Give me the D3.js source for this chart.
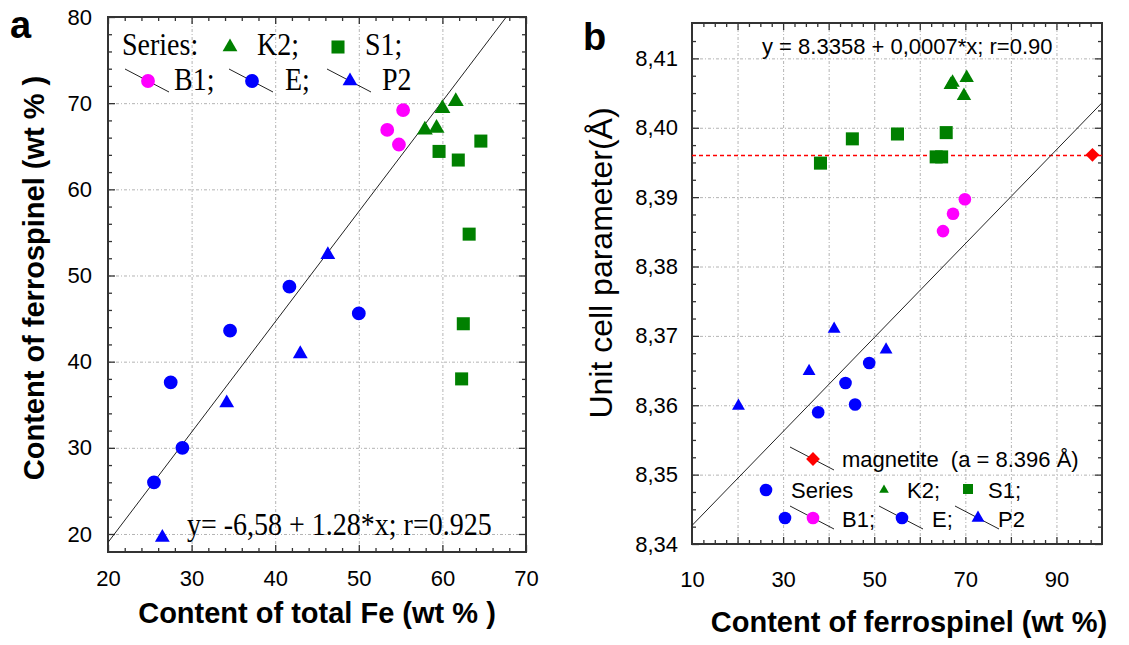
<!DOCTYPE html>
<html>
<head>
<meta charset="utf-8">
<script src="https://cdn.jsdelivr.net/npm/d3@7"></script>
<style>
  body { margin: 0; background: #fff; }
  svg { display: block; }
  .tick text { font-family: Arial, "Liberation Sans", sans-serif; font-size: 22px; fill: #000; }
  .grid line { stroke: #b4b4b4; stroke-width: 1; stroke-dasharray: 3,2,1,2; }
  .ticks line { stroke: #333; stroke-width: 1.3; }
  .title { font-family: Arial, "Liberation Sans", sans-serif; font-weight: bold; font-size: 29px; fill: #000; }
  .serif { font-family: "Liberation Serif", "Times New Roman", serif; font-size: 28px; fill: #000; }
  .sans { font-family: Arial, "Liberation Sans", sans-serif; font-size: 22px; fill: #000; }
</style>
</head>
<body>
<svg id="chart" width="1129" height="645"></svg>
<script>
// ---- panel a : content of ferrospinel vs content of total Fe ----
var aXTicks = [ 20, 30, 40, 50, 60, 70 ];
var aYTicks = [ 20, 30, 40, 50, 60, 70, 80 ];
var aK2 = [ [ 57.9, 66.9 ], [ 59.3, 67.1 ], [ 60.0, 69.4 ], [ 61.6, 70.2 ] ];
var aS1 = [ [ 59.6, 64.4 ], [ 61.9, 63.4 ], [ 64.6, 65.6 ], [ 63.2, 54.8 ], [ 62.5, 44.4 ], [ 62.3, 38.0 ] ];
var aB1 = [ [ 55.3, 69.2 ], [ 53.4, 66.9 ], [ 54.8, 65.2 ] ];
var aE = [ [ 25.5, 26.0 ], [ 28.9, 30.0 ], [ 27.5, 37.6 ], [ 34.6, 43.6 ], [ 41.7, 48.7 ], [ 50.0, 45.6 ] ];
var aP2 = [ [ 26.5, 19.6 ], [ 34.2, 35.2 ], [ 43.0, 40.9 ], [ 46.3, 52.4 ] ];
var aFit = [ -6.58, 1.28 ]; // y = a + b*x
var aFitText = "y= -6,58 + 1.28*x; r=0.925";

// ---- panel b : unit cell parameter vs content of ferrospinel ----
var bXTicks = [ 10, 30, 50, 70, 90 ];
var bYTicks = [ 8.34, 8.35, 8.36, 8.37, 8.38, 8.39, 8.40, 8.41 ];
var bK2 = [ [ 66.8, 8.4062 ], [ 67.2, 8.4065 ], [ 70.3, 8.4072 ], [ 69.7, 8.4046 ] ];
var bS1 = [ [ 38.2, 8.3949 ], [ 45.2, 8.3984 ], [ 55.1, 8.3991 ], [ 65.8, 8.3993 ], [ 63.6, 8.3958 ], [ 64.8, 8.3958 ] ];
var bB1 = [ [ 69.9, 8.3897 ], [ 67.3, 8.3876 ], [ 65.1, 8.3851 ] ];
var bE = [ [ 37.7, 8.3590 ], [ 43.7, 8.3632 ], [ 45.8, 8.3601 ], [ 48.9, 8.3661 ] ];
var bP2 = [ [ 20.2, 8.3599 ], [ 35.7, 8.3649 ], [ 41.2, 8.3710 ], [ 52.6, 8.3680 ] ];
var bMagnetite = [ [ 97.9, 8.3961 ] ];
var bMagnetiteA = 8.396;
var bFit = [ 8.3359, 0.000677 ];
var bFitText = "y = 8.3358 + 0,0007*x; r=0.90";

var GREEN = "#008000", BLUE = "#0000ff", MAGENTA = "#ff00ff", RED = "#ff0000";

var svg = d3.select( "#chart" );
svg.append( "rect" ).attr( "width", 1129 ).attr( "height", 645 ).attr( "fill", "#fff" );

// scales (ranges are the plot frames)
var ax = d3.scaleLinear().domain( [ 20, 70 ] ).range( [ 108, 526 ] );
var ay = d3.scaleLinear().domain( [ 17.91, 80 ] ).range( [ 552, 17 ] );
var bx = d3.scaleLinear().domain( [ 10, 100 ] ).range( [ 692, 1102 ] );
var by = d3.scaleLinear().domain( [ 8.34, 8.4151 ] ).range( [ 544, 23 ] );

function sym( type, size ) {
  return d3.symbol().type( type ).size( size )();
}

function frame( g, x, y, o ) {
  var x0 = x.range()[ 0 ], x1 = x.range()[ 1 ], y0 = y.range()[ 0 ], y1 = y.range()[ 1 ];
  var h = y0 - y1, w = x1 - x0;

  // dotted grid
  g.append( "g" ).attr( "class", "grid" ).attr( "transform", "translate(0," + y0 + ")" )
    .call( d3.axisBottom( x ).tickValues( o.xGrid ).tickSize( -h ).tickFormat( "" ) );
  g.append( "g" ).attr( "class", "grid" ).attr( "transform", "translate(" + x0 + ",0)" )
    .call( d3.axisLeft( y ).tickValues( o.yGrid ).tickSize( -w ).tickFormat( "" ) );

  // inward ticks on four sides, major + minor
  [ [ o.xMajor, 7 ], [ o.xMinor, 4 ] ].forEach( function ( t ) {
    g.append( "g" ).attr( "class", "ticks" ).attr( "transform", "translate(0," + y0 + ")" )
      .call( d3.axisBottom( x ).tickValues( t[ 0 ] ).tickSize( -t[ 1 ] ).tickFormat( "" ) );
    g.append( "g" ).attr( "class", "ticks" ).attr( "transform", "translate(0," + y1 + ")" )
      .call( d3.axisTop( x ).tickValues( t[ 0 ] ).tickSize( -t[ 1 ] ).tickFormat( "" ) );
  } );
  [ [ o.yMajor, 7 ], [ o.yMinor, 4 ] ].forEach( function ( t ) {
    g.append( "g" ).attr( "class", "ticks" ).attr( "transform", "translate(" + x0 + ",0)" )
      .call( d3.axisLeft( y ).tickValues( t[ 0 ] ).tickSize( -t[ 1 ] ).tickFormat( "" ) );
    g.append( "g" ).attr( "class", "ticks" ).attr( "transform", "translate(" + x1 + ",0)" )
      .call( d3.axisRight( y ).tickValues( t[ 0 ] ).tickSize( -t[ 1 ] ).tickFormat( "" ) );
  } );
  g.selectAll( ".grid .domain, .ticks .domain" ).remove();

  // tick labels
  g.append( "g" ).attr( "transform", "translate(0," + y0 + ")" )
    .call( d3.axisBottom( x ).tickValues( o.xLabels ).tickSize( 0 ).tickPadding( o.xPad ).tickFormat( o.xFmt ) )
    .select( ".domain" ).remove();
  g.append( "g" ).attr( "transform", "translate(" + x0 + ",0)" )
    .call( d3.axisLeft( y ).tickValues( o.yLabels ).tickSize( 0 ).tickPadding( o.yPad ).tickFormat( o.yFmt ) )
    .select( ".domain" ).remove();

  // frame
  g.append( "rect" ).attr( "x", x0 ).attr( "y", y1 ).attr( "width", w ).attr( "height", h )
    .attr( "fill", "none" ).attr( "stroke", "#333" ).attr( "stroke-width", 2 );

  g.append( "clipPath" ).attr( "id", o.clip ).append( "rect" )
    .attr( "x", x0 ).attr( "y", y1 ).attr( "width", w ).attr( "height", h );
}

function points( g, data, x, y, type, size, color, rot ) {
  g.selectAll( null ).data( data ).enter().append( "path" )
    .attr( "d", sym( type, size ) )
    .attr( "transform", function ( d ) {
      return "translate(" + x( d[ 0 ] ) + "," + y( d[ 1 ] ) + ")" + ( rot ? " rotate(" + rot + ")" : "" );
    } )
    .attr( "fill", color );
}

function fitLine( g, fit, x, y, clip ) {
  var xs = x.domain();
  var pts = xs.map( function ( v ) { return [ v, fit[ 0 ] + fit[ 1 ] * v ]; } );
  g.append( "path" )
    .attr( "d", d3.line().x( function ( d ) { return x( d[ 0 ] ); } ).y( function ( d ) { return y( d[ 1 ] ); } )( pts ) )
    .attr( "clip-path", "url(#" + clip + ")" )
    .attr( "stroke", "#222" ).attr( "stroke-width", 1 ).attr( "fill", "none" );
}

// legend helper: short slanted line behind a marker
function legendMark( g, cx, cy, type, size, color, withLine, rot ) {
  if ( withLine ) {
    g.append( "line" ).attr( "x1", cx - 23 ).attr( "y1", cy - 12 ).attr( "x2", cx + 21 ).attr( "y2", cy + 11 )
      .attr( "stroke", "#222" ).attr( "stroke-width", 1 );
  }
  g.append( "path" ).attr( "d", sym( type, size ) )
    .attr( "transform", "translate(" + cx + "," + cy + ")" + ( rot ? " rotate(" + rot + ")" : "" ) )
    .attr( "fill", color );
}

// ===== panel a =====
var ga = svg.append( "g" );
frame( ga, ax, ay, {
  xGrid: [ 30, 40, 50, 60 ], yGrid: [ 20, 30, 40, 50, 60, 70 ],
  xMajor: aXTicks, xMinor: d3.range( 22, 70, 2 ).filter( function ( v ) { return v % 10; } ),
  yMajor: aYTicks, yMinor: d3.range( 18, 80, 2 ).filter( function ( v ) { return v % 10; } ),
  xLabels: aXTicks, yLabels: aYTicks, xPad: 18, yPad: 16,
  xFmt: d3.format( "d" ), yFmt: d3.format( "d" ), clip: "clipA"
} );
fitLine( ga, aFit, ax, ay, "clipA" );
points( ga, aE, ax, ay, d3.symbolCircle, 150, BLUE );
points( ga, aP2, ax, ay, d3.symbolTriangle, 95, BLUE );
points( ga, aB1, ax, ay, d3.symbolCircle, 150, MAGENTA );
points( ga, aS1, ax, ay, d3.symbolSquare, 170, GREEN );
points( ga, aK2, ax, ay, d3.symbolTriangle, 110, GREEN );

// legend a
ga.append( "text" ).attr( "class", "serif" ).attr( "transform", "translate(122,55) scale(1,1.15)" ).text( "Series:" );
legendMark( ga, 230, 47, d3.symbolTriangle, 95, GREEN, false );
ga.append( "text" ).attr( "class", "serif" ).attr( "transform", "translate(257,55) scale(1,1.15)" ).text( "K2;" );
legendMark( ga, 338, 47, d3.symbolSquare, 170, GREEN, false );
ga.append( "text" ).attr( "class", "serif" ).attr( "transform", "translate(365,55) scale(1,1.15)" ).text( "S1;" );
legendMark( ga, 148, 81, d3.symbolCircle, 150, MAGENTA, true );
ga.append( "text" ).attr( "class", "serif" ).attr( "transform", "translate(174,90) scale(1,1.15)" ).text( "B1;" );
legendMark( ga, 252, 81, d3.symbolCircle, 150, BLUE, true );
ga.append( "text" ).attr( "class", "serif" ).attr( "transform", "translate(285,90) scale(1,1.15)" ).text( "E;" );
legendMark( ga, 350, 81, d3.symbolTriangle, 95, BLUE, true );
ga.append( "text" ).attr( "class", "serif" ).attr( "transform", "translate(382,90) scale(1,1.15)" ).text( "P2" );

ga.append( "text" ).attr( "class", "serif" ).attr( "transform", "translate(187,535) scale(1,1.15)" ).text( aFitText );

// titles a
ga.append( "text" ).attr( "class", "title" ).attr( "text-anchor", "middle" )
  .attr( "x", 317 ).attr( "y", 623 ).text( "Content of total Fe (wt % )" );
ga.append( "text" ).attr( "class", "title" ).attr( "text-anchor", "middle" )
  .attr( "transform", "translate(44,278) rotate(-90)" ).text( "Content of ferrospinel (wt % )" );
ga.append( "text" ).attr( "class", "title" ).style( "font-size", "38px" ).attr( "x", 10 ).attr( "y", 38 ).text( "a" );

// ===== panel b =====
var gb = svg.append( "g" );
frame( gb, bx, by, {
  xGrid: d3.range( 20, 100, 10 ), yGrid: bYTicks.slice( 1 ),
  xMajor: d3.range( 20, 100, 10 ), xMinor: d3.range( 12.5, 100, 2.5 ).filter( function ( v ) { return v % 10; } ),
  yMajor: bYTicks, yMinor: d3.range( 8.3425, 8.415, 0.0025 ).filter( function ( v ) { return Math.abs( Math.round( v * 100 ) - v * 100 ) > 0.01; } ),
  xLabels: bXTicks, yLabels: bYTicks, xPad: 27, yPad: 14,
  xFmt: d3.format( "d" ), yFmt: function ( v ) { return v.toFixed( 2 ).replace( ".", "," ); }, clip: "clipB"
} );
// magnetite reference level
gb.append( "path" )
  .attr( "d", d3.line()( [ [ bx.range()[ 0 ], by( bMagnetiteA ) ], [ bx.range()[ 1 ], by( bMagnetiteA ) ] ] ) )
  .style( "stroke", RED ).style( "stroke-width", 1.4 ).style( "stroke-dasharray", "4,3" ).attr( "fill", "none" );
fitLine( gb, bFit, bx, by, "clipB" );
points( gb, bE, bx, by, d3.symbolCircle, 125, BLUE );
points( gb, bP2, bx, by, d3.symbolTriangle, 72, BLUE );
points( gb, bB1, bx, by, d3.symbolCircle, 125, MAGENTA );
points( gb, bS1, bx, by, d3.symbolSquare, 170, GREEN );
points( gb, bK2, bx, by, d3.symbolTriangle, 90, GREEN );
points( gb, bMagnetite, bx, by, d3.symbolSquare, 95, RED, 45 );

gb.append( "text" ).attr( "class", "sans" ).attr( "x", 762 ).attr( "y", 54 ).text( bFitText );

// legend b
legendMark( gb, 813, 459, d3.symbolSquare, 95, RED, true, 45 );
gb.append( "text" ).attr( "class", "sans" ).attr( "x", 842 ).attr( "y", 467 )
  .style( "white-space", "pre" ).text( "magnetite  (a = 8.396 \u00c5)" );
legendMark( gb, 766, 490, d3.symbolCircle, 125, BLUE, false );
gb.append( "text" ).attr( "class", "sans" ).attr( "x", 791 ).attr( "y", 498 ).text( "Series" );
legendMark( gb, 884, 490, d3.symbolTriangle, 40, GREEN, false );
gb.append( "text" ).attr( "class", "sans" ).attr( "x", 907 ).attr( "y", 498 ).text( "K2;" );
legendMark( gb, 968, 489, d3.symbolSquare, 100, GREEN, false );
gb.append( "text" ).attr( "class", "sans" ).attr( "x", 988 ).attr( "y", 498 ).text( "S1;" );
legendMark( gb, 785, 518, d3.symbolCircle, 125, BLUE, false );
legendMark( gb, 813, 518, d3.symbolCircle, 125, MAGENTA, true );
gb.append( "text" ).attr( "class", "sans" ).attr( "x", 842 ).attr( "y", 527 ).text( "B1;" );
legendMark( gb, 902, 518, d3.symbolCircle, 125, BLUE, true );
gb.append( "text" ).attr( "class", "sans" ).attr( "x", 932 ).attr( "y", 527 ).text( "E;" );
legendMark( gb, 978, 518, d3.symbolTriangle, 72, BLUE, true );
gb.append( "text" ).attr( "class", "sans" ).attr( "x", 998 ).attr( "y", 527 ).text( "P2" );

// titles b
gb.append( "text" ).attr( "class", "title" ).attr( "text-anchor", "middle" )
  .attr( "x", 909 ).attr( "y", 632 ).text( "Content of ferrospinel (wt %)" );
gb.append( "text" ).attr( "class", "title" ).attr( "text-anchor", "middle" )
  .style( "font-weight", "normal" ).style( "font-size", "32px" )
  .attr( "transform", "translate(612,263) rotate(-90)" ).text( "Unit cell parameter(\u00c5)" );
gb.append( "text" ).attr( "class", "title" ).style( "font-size", "38px" ).attr( "x", 583 ).attr( "y", 50 ).text( "b" );
</script>
</body>
</html>
